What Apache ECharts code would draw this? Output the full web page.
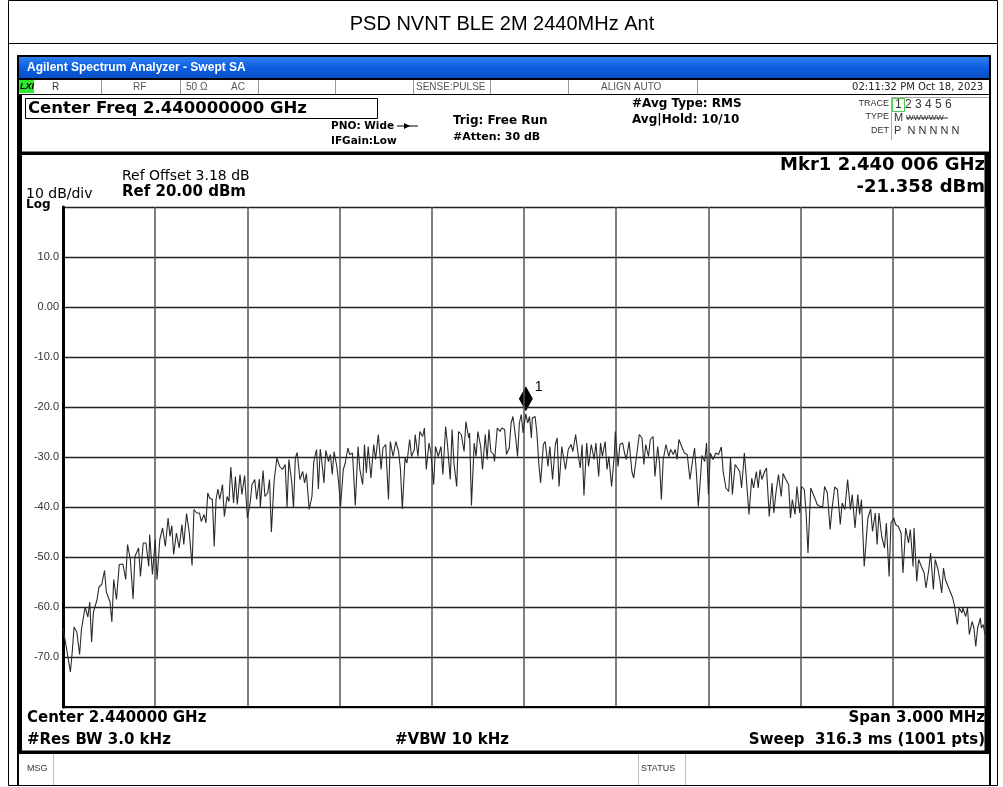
<!DOCTYPE html>
<html>
<head>
<meta charset="utf-8">
<script src="https://cdn.jsdelivr.net/npm/echarts@6/dist/echarts.min.js"></script>
<style>html,body{margin:0;padding:0;background:#fff;}#c{width:1003px;height:787px;}</style>
</head>
<body>
<div id="c"></div>
<script>
// ---- Data (point index 0..1000, level in dBm) ----
const pointIdx = [
0,4,8,10,12,15,18,20,24,27,29,31,33,37,39,42,45,47,51,53,55,58,61,65,68,70,73,76,78,82,84,87,90,93,94,97,100,102,105,108,111,114,116,118,120,123,126,129,131,134,137,140,142,145,148,150,153,155,157,159,162,164,166,168,170,173,175,178,180,182,185,187,189,192,194,197,200,203,205,208,210,213,214,217,219,222,224,226,229,232,235,238,241,243,245,248,250,252,254,257,260,262,264,267,270,272,275,277,279,281,283,285,288,290,292,294,297,299,301,304,306,309,311,314,317,320,322,325,327,329,331,
334,337,339,342,345,347,350,353,355,358,361,364,366,368,371,373,376,378,381,382,385,387,390,392,394,397,399,402,404,407,410,412,415,417,420,422,424,427,429,432,435,437,440,441,443,446,448,450,453,455,458,460,462,464,467,468,471,474,476,479,481,484,486,488,491,493,495,497,499,502,504,506,508,509,512,514,516,518,521,523,526,528,531,534,536,538,541,543,545,548,551,553,556,559,561,563,565,568,570,573,576,578,581,583,585,588,590,592,595,598,599,602,604,607,609,611,614,617,619,622,625,628,630,632,635,637,640,642,645,647,649,651,654,657,659,662,
664,666,668,671,674,677,680,683,685,687,689,691,693,696,698,700,702,705,708,711,714,716,719,722,724,726,729,731,734,736,739,741,743,744,747,749,752,754,756,758,761,763,766,769,771,773,776,779,781,784,787,789,791,794,796,799,801,804,806,808,811,813,816,818,821,824,826,829,832,834,837,840,843,845,848,851,854,856,859,862,864,866,869,872,873,876,878,881,883,885,888,891,893,896,898,901,903,906,909,911,914,917,919,922,923,926,928,931,934,936,939,941,944,946,949,951,953,955,957,960,962,965,967,970,972,975,976,979,981,983,986,988,990,992,995,996,998,1000
];
const levelDbm = [
-64.2,-68.5,-73,-69,-64,-65,-69.5,-64.5,-60,-62,-59,-67,-61,-58.5,-56,-55.5,-52.7,-57,-59,-63,-54.5,-58.5,-51.5,-51.4,-54.5,-47.5,-50.5,-58.4,-49.9,-48.2,-53.9,-47.2,-47.2,-51.9,-45.5,-53.5,-46.5,-54.5,-46.5,-44.2,-47.9,-42.2,-45.9,-43.7,-49.5,-45.2,-48.2,-43.5,-47.5,-41.3,-45.2,-51.7,-40.5,-41.2,-41.2,-42.9,-41.5,-43.2,-37.2,-38.2,-38.5,-47.9,-38.5,-36.4,-38.5,-35.5,-41.9,-37.9,-38.9,-32,-39.2,-33.9,-39.5,-33.5,-37.5,-33.7,-42.2,-39.2,-35.5,-34.5,-38.5,-34.4,-40,-32.7,-37.9,-37.2,-34.5,-45,-34.7,-30.2,-31.9,-32.5,-31.5,-40,-30.5,-34.9,-40.2,-30.2,-29.1,-34.5,-32.9,-35.2,-33.3,-40.5,-37.9,-30.9,-28.5,-36.4,-28.4,-31.3,-35.2,-28.7,-30.9,-29.5,-33.5,-28.9,-31.9,-35.2,-39.9,-32.5,-31.3,-28.2,-29.5,-29.2,-39.7,-27.9,-32.5,-35.5,-27.5,-33.2,-27.9,
-34.2,-27.5,-30.5,-25.5,-32.5,-28.2,-27.5,-38.5,-26.9,-29.9,-26.9,-28.9,-32.5,-40.4,-30.2,-31.2,-26.5,-29.9,-28.5,-25.5,-29.9,-24.9,-25.9,-24.2,-32.5,-27.2,-29.2,-35.5,-27.9,-29.9,-27.9,-33.5,-23.9,-27.5,-34.5,-24.5,-31.2,-35.9,-24.9,-25.5,-28.9,-22.9,-26.2,-25.2,-39.7,-27.2,-29.9,-24.9,-27.9,-32.5,-25.5,-30.5,-24.5,-28.9,-29.5,-30.9,-24.2,-24.9,-24.2,-24.5,-29.5,-28.2,-23.2,-21.9,-26.2,-29.9,-23.2,-21.5,-25.2,-21.358,-23.2,-21.9,-26.2,-22.2,-21.9,-25.2,-31.2,-35.2,-27.5,-26.9,-31.9,-27.9,-34.5,-27.5,-26.2,-35.9,-27.9,-28.2,-32.5,-28.5,-27.5,-28.9,-25.5,-29.9,-32.2,-27.5,-37.7,-27.2,-31.9,-27.5,-30.5,-27.2,-33.9,-27.2,-29.9,-26.9,-32.5,-29.9,-35.9,-29.5,-24.9,-31.9,-27.5,-27.2,-29.2,-30.5,-26.9,-32.9,-34.2,-29.9,-25.5,-26.2,-31.5,-27.5,-29.9,-26.5,-25.9,-33.9,-27.9,-31.2,-38.5,-30.5,-27.5,-29.9,-28.5,-29.5,
-28.5,-30.5,-26.5,-27.9,-29.2,-29.5,-34.5,-30.5,-28.2,-33.2,-39.9,-35.2,-29.7,-30.9,-27.2,-37.5,-29.2,-30.5,-29.2,-29.5,-28,-32.9,-36.2,-36.9,-30.2,-37.5,-31.5,-31.2,-32.9,-36.2,-29.2,-33.9,-34.2,-41.5,-34.2,-36.2,-32.9,-36.2,-32.5,-34.5,-32.9,-32.2,-41.9,-35.2,-41.2,-37.5,-33.5,-37.9,-33.3,-34.5,-35.5,-42.2,-38.5,-41.5,-35.9,-41.2,-35.9,-36.5,-41.2,-49.2,-36.2,-36.5,-38.5,-39.5,-39.9,-39.9,-35.9,-37.2,-44.5,-40.5,-36,-36.5,-43.5,-39.2,-40.5,-34.5,-40.5,-37.5,-44.2,-37.5,-41.5,-38.5,-51.9,-44.5,-42.2,-40.4,-44.9,-41.2,-47.5,-41.2,-45.9,-48.2,-43.2,-53.9,-43.2,-42.2,-43.5,-43.9,-45.2,-53.2,-44.2,-47.2,-44.5,-51.9,-44.2,-54.9,-50.5,-51.9,-53.2,-56.2,-52.5,-49.2,-56.5,-50.5,-52.5,-54.5,-57.2,-52.2,-54.5,-55.9,-55.5,-58.2,-59.9,-63.5,-60.2,-61.2,-60.2,-61.9,-60.2,-65.5,-62.9,-64.2,-67.9,-64.2,-62.2,-64.2,-63.5,-65.5
];
const markerIdx = 502;
const markerLevel = -21.358;
const yTicks = [20, 10, 0, -10, -20, -30, -40, -50, -60, -70, -80];
const yLabelText = ['', '10.0', '0.00', '-10.0', '-20.0', '-30.0', '-40.0', '-50.0', '-60.0', '-70.0', ''];

const trace = pointIdx.map((p, i) => [p, levelDbm[i]]);

const F = '"Liberation Sans", Arial, sans-serif';
const FD = '"DejaVu Sans", Verdana, sans-serif';
function txt(x, y, text, font, opt) {
  opt = opt || {};
  return { type: 'text', z: 10, silent: true,
    style: { x: x, y: y, text: text, font: font, fill: opt.fill || '#000',
      textAlign: opt.align || 'left', textVerticalAlign: 'middle' } };
}
function rect(x, y, w, h, fill, stroke, lw, z) {
  return { type: 'rect', z: z == null ? 1 : z, silent: true, shape: { x: x, y: y, width: w, height: h },
    style: { fill: fill || 'none', stroke: stroke || 'none', lineWidth: lw || 1 } };
}
function line(x1, y1, x2, y2, stroke, lw, z) {
  return { type: 'line', z: z == null ? 5 : z, silent: true, shape: { x1: x1, y1: y1, x2: x2, y2: y2 },
    style: { stroke: stroke || '#000', lineWidth: lw || 1 } };
}

const g = [];
// outer page frame + title
g.push(rect(8.5, 0.5, 989, 785, 'none', '#000', 1, 20));
g.push(line(8, 43.5, 998, 43.5, '#000', 1));
g.push(txt(502, 24, 'PSD NVNT BLE 2M 2440MHz Ant', '20px ' + F, { align: 'center' }));
// analyzer window
g.push(rect(17, 55, 974, 731, '#000', 'none', 1, 0));
g.push({ type: 'rect', z: 1, silent: true, shape: { x: 19, y: 57, width: 970, height: 21 },
  style: { fill: { type: 'linear', x: 0, y: 0, x2: 0, y2: 1, colorStops: [
    { offset: 0, color: '#2f7ff0' }, { offset: 0.5, color: '#0b5ee0' }, { offset: 1, color: '#0a50c8' }] } } });
g.push(txt(27, 68, 'Agilent Spectrum Analyzer - Swept SA', 'bold 12px ' + F, { fill: '#fff' }));
// status row
g.push(rect(19, 80, 970, 14, '#fff', 'none', 1, 1));
[101, 180, 258, 335, 413, 490, 568, 697].forEach(x => g.push(line(x + 0.5, 80, x + 0.5, 94, '#999', 1)));
g.push(rect(19, 80, 15, 13, '#2ee82e', 'none', 1, 2));
g.push(txt(20, 87, 'LXI', 'italic bold 9px ' + F));
g.push(txt(52, 87, 'R', '10px ' + F, { fill: '#333' }));
g.push(txt(133, 87, 'RF', '10px ' + F, { fill: '#555' }));
g.push(txt(186, 87, '50 Ω', '10px ' + F, { fill: '#555' }));
g.push(txt(231, 87, 'AC', '10px ' + F, { fill: '#555' }));
g.push(txt(416, 87, 'SENSE:PULSE', '10px ' + F, { fill: '#555' }));
g.push(txt(601, 87, 'ALIGN AUTO', '10px ' + F, { fill: '#555' }));
g.push(txt(983, 87, '02:11:32 PM Oct 18, 2023', '10px ' + FD, { fill: '#222', align: 'right' }));
// header area
g.push(rect(22, 95, 967, 57, '#fff', 'none', 1, 1));
g.push(rect(25.5, 98.5, 352, 20, 'none', '#000', 1, 3));
g.push(txt(28, 109, 'Center Freq 2.440000000 GHz', 'bold 16.5px ' + FD));
g.push(txt(331, 126, 'PNO: Wide', 'bold 10.5px ' + FD));
g.push(txt(331, 141, 'IFGain:Low', 'bold 10.5px ' + FD));
g.push(line(397, 126, 418, 126, '#000', 1));
g.push({ type: 'polygon', z: 5, silent: true, shape: { points: [[404, 123], [410, 126], [404, 129]] }, style: { fill: '#000' } });
g.push(txt(453, 121, 'Trig: Free Run', 'bold 12px ' + FD));
g.push(txt(453, 137, '#Atten: 30 dB', 'bold 11px ' + FD));
g.push(txt(632, 104, '#Avg Type: RMS', 'bold 12px ' + FD));
g.push(txt(632, 120, 'Avg|Hold: 10/10', 'bold 12px ' + FD));
g.push(txt(889, 104, 'TRACE', '9px ' + F, { fill: '#333', align: 'right' }));
g.push(txt(889, 117, 'TYPE', '9px ' + F, { fill: '#333', align: 'right' }));
g.push(txt(889, 131, 'DET', '9px ' + F, { fill: '#333', align: 'right' }));
g.push(line(891.5, 97, 891.5, 140, '#aaa', 1));
g.push(line(891, 97.5, 989, 97.5, '#aaa', 1));
g.push(rect(892.5, 98.5, 12, 13, 'none', '#4c4', 1, 3));
g.push(txt(895, 105, '1 2 3 4 5 6', '12px ' + F, { fill: '#333' }));
g.push(txt(894, 118, 'M', '11px ' + F, { fill: '#333' }));
g.push(txt(906, 118, 'WWWWW', '8px ' + F, { fill: '#333' }));
g.push(line(906, 118, 948, 118, '#333', 1));
g.push(txt(894, 131, 'P  N N N N N', '11px ' + F, { fill: '#333' }));
g.push(line(17, 153, 991, 153, '#000', 3));
// display area
g.push(rect(22, 155, 963, 596, '#fff', 'none', 1, 0));
g.push(txt(122, 176, 'Ref Offset 3.18 dB', '14px ' + FD));
g.push(txt(122, 192, 'Ref 20.00 dBm', 'bold 15px ' + FD));
g.push(txt(26, 194, '10 dB/div', '14px ' + FD));
g.push(txt(26, 205, 'Log', 'bold 12px ' + FD));
g.push(txt(985, 165, 'Mkr1 2.440 006 GHz', 'bold 18px ' + FD, { align: 'right' }));
g.push(txt(985, 187, '-21.358 dBm', 'bold 18px ' + FD, { align: 'right' }));
g.push(txt(27, 718, 'Center 2.440000 GHz', 'bold 15px ' + FD));
g.push(txt(27, 740, '#Res BW 3.0 kHz', 'bold 15px ' + FD));
g.push(txt(395, 740, '#VBW 10 kHz', 'bold 15px ' + FD));
g.push(txt(985, 718, 'Span 3.000 MHz', 'bold 15px ' + FD, { align: 'right' }));
g.push(txt(985, 740, 'Sweep  316.3 ms (1001 pts)', 'bold 15px ' + FD, { align: 'right' }));
g.push(line(986, 155, 986, 751, '#000', 3, 6));
g.push(line(17, 752, 991, 752, '#000', 3, 6));
// message bar
g.push(rect(19, 754, 970, 31, '#fff', 'none', 1, 1));
g.push(line(53.5, 754, 53.5, 785, '#bbb', 1));
g.push(line(638.5, 754, 638.5, 785, '#bbb', 1));
g.push(line(685.5, 754, 685.5, 785, '#bbb', 1));
g.push(txt(27, 769, 'MSG', '9px ' + F, { fill: '#333' }));
g.push(txt(641, 769, 'STATUS', '9px ' + F, { fill: '#333' }));

const chart = echarts.init(document.getElementById('c'), null, { renderer: 'canvas' });
chart.setOption({
  animation: false,
  backgroundColor: '#fff',
  graphic: { elements: g },
  grid: { left: 63, top: 207, width: 922, height: 500, containLabel: false, z: 8 },
  xAxis: {
    type: 'value', min: 0, max: 1000, interval: 100, z: 8,
    axisLine: { show: true, onZero: false, lineStyle: { color: '#000', width: 2 } },
    axisTick: { show: false }, axisLabel: { show: false },
    splitLine: { show: true, lineStyle: { color: '#555', width: 1.5 } }
  },
  yAxis: {
    type: 'value', min: -80, max: 20, interval: 10, z: 8,
    axisLine: { show: true, onZero: false, lineStyle: { color: '#000', width: 3 } },
    axisTick: { show: false },
    axisLabel: { margin: 4, fontSize: 11, color: '#333', fontFamily: 'Liberation Sans, Arial',
      formatter: v => yLabelText[yTicks.indexOf(Math.round(v))] || '' },
    splitLine: { show: true, lineStyle: { color: '#222', width: 1.3 } }
  },
  series: [{
    type: 'line', data: trace, z: 9, showSymbol: false, symbol: 'none',
    lineStyle: { color: '#2a2a2a', width: 1.1 },
    markPoint: {
      silent: true,
      data: [{ coord: [markerIdx, markerLevel], symbol: 'diamond', symbolSize: [14, 25], symbolOffset: [0, -15],
        itemStyle: { color: '#000' },
        label: { show: true, formatter: '1', position: [16, -6], color: '#000', fontSize: 14, fontFamily: 'Liberation Sans, Arial' } }]
    }
  }]
});
</script>
</body>
</html>
